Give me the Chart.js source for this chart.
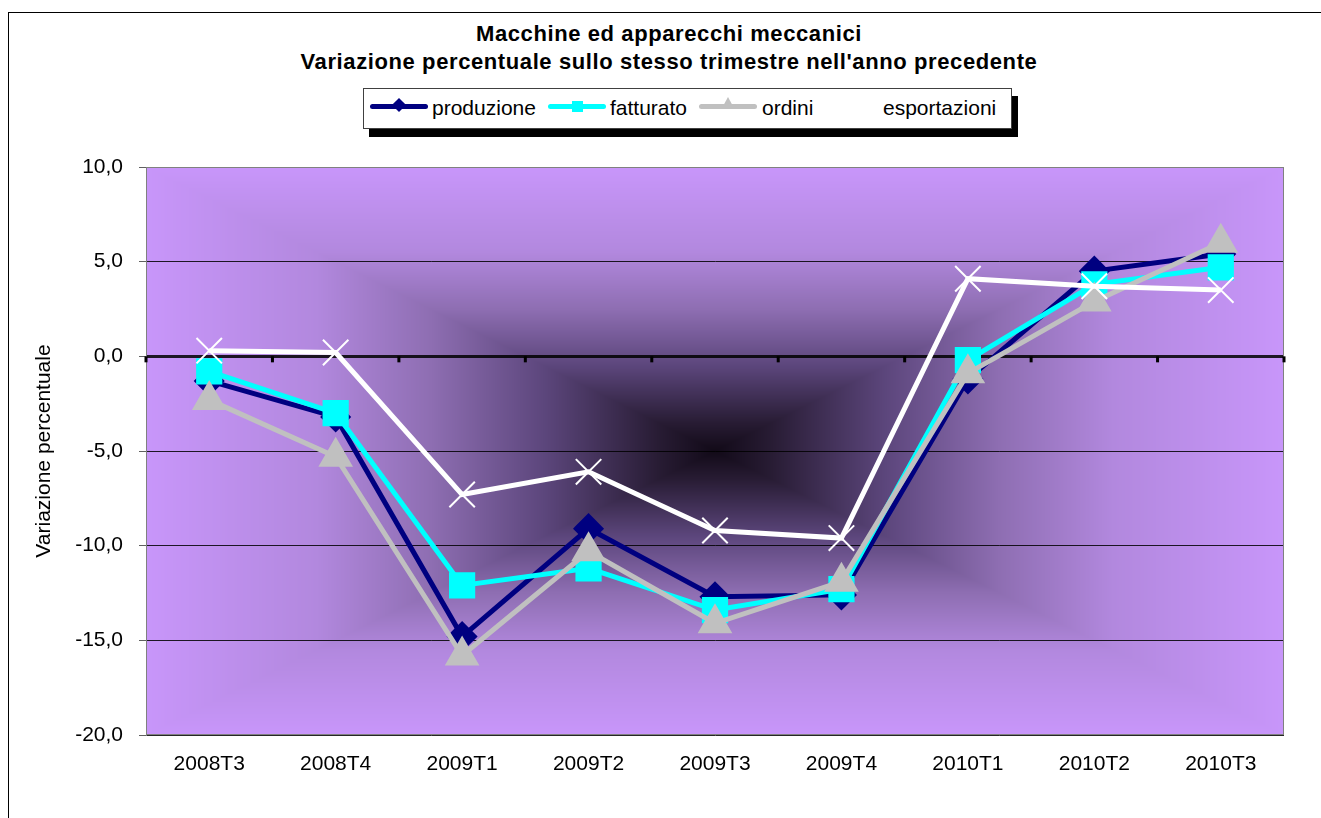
<!DOCTYPE html>
<html>
<head>
<meta charset="utf-8">
<script src="https://cdn.jsdelivr.net/npm/chart.js@4/dist/chart.umd.min.js"></script>
<style>
  body { margin: 0; background: #fff; overflow: hidden; font-family: "Liberation Sans", Arial, sans-serif; }
  #frame { position: absolute; left: 8px; top: 12px; width: 1400px; height: 900px; border: 1px solid #000; }
  #titolo { position: absolute; left: 8px; top: 20px; width: 1322px; text-align: center; font-weight: bold; font-size: 22px; line-height: 28px; letter-spacing: 0.6px; color: #000; }
  #legenda { position: absolute; left: 363px; top: 88px; width: 647px; height: 39px; border: 1px solid #404040; background: #fff; box-shadow: 6px 8px 0 #000; }
  #legenda .lin { position: absolute; top: 15px; width: 58px; height: 5px; border-radius: 3px; }
  #legenda .txt { position: absolute; top: 4px; font-size: 21px; line-height: 30px; color: #000; white-space: nowrap; }
  canvas { position: absolute; left: 0; top: 0; }
</style>
</head>
<body>
<div id="frame"></div>
<div id="titolo">Macchine ed apparecchi meccanici<br>Variazione percentuale sullo stesso trimestre nell'anno precedente</div>
<div id="legenda">
  <div class="lin" style="left:6px;background:#000080"></div>
  <div style="position:absolute;left:30px;top:11px;width:10px;height:10px;background:#000080;transform:rotate(45deg)"></div>
  <div class="txt" style="left:68px">produzione</div>
  <div class="lin" style="left:184px;background:#00ffff"></div>
  <div style="position:absolute;left:208px;top:12px;width:11px;height:11px;background:#00ffff"></div>
  <div class="txt" style="left:246px">fatturato</div>
  <div class="lin" style="left:335px;background:#c0c0c0"></div>
  <div style="position:absolute;left:358px;top:8px;width:0;height:0;border-left:6px solid transparent;border-right:6px solid transparent;border-bottom:11px solid #c0c0c0"></div>
  <div class="txt" style="left:398px">ordini</div>
  <div class="lin" style="left:459px;background:#ffffff"></div>
  <div class="txt" style="left:519px">esportazioni</div>
</div>
<canvas id="grafico" width="1321" height="818"></canvas>
<script>
const trimestri = ['2008T3', '2008T4', '2009T1', '2009T2', '2009T3', '2009T4', '2010T1', '2010T2', '2010T3'];
const produzione = [-1.3, -3.2, -14.8, -9.1, -12.7, -12.6, -1.2, 4.5, 5.4];
const fatturato = [-0.8, -3.0, -12.1, -11.2, -13.4, -12.3, -0.2, 3.8, 4.7];
const ordini = [-2.3, -5.3, -15.8, -10.3, -14.1, -11.9, -0.9, 2.9, 6.0];
const esportazioni = [0.3, 0.2, -7.3, -6.1, -9.2, -9.6, 4.1, 3.7, 3.5];
const yMin = -20, yMax = 10, yStep = 5;

// sfondo dell'area del grafico: sfumatura rettangolare dal centro
const stops = [
  [0, [18, 10, 24]], [0.1, [40, 28, 52]], [0.3, [92, 70, 124]],
  [0.5, [142, 110, 178]], [0.7, [178, 136, 222]], [1, [200, 150, 250]]
];
function colore(t) {
  for (let i = 1; i < stops.length; i++) {
    if (t <= stops[i][0]) {
      const [t0, c0] = stops[i - 1], [t1, c1] = stops[i];
      const f = (t - t0) / (t1 - t0);
      return c0.map((v, k) => v + (c1[k] - v) * f);
    }
  }
  return stops[stops.length - 1][1];
}

const sfondo = {
  id: 'sfondo',
  beforeDraw(chart) {
    const { ctx, chartArea: a } = chart;
    const w = Math.round(a.right - a.left), h = Math.round(a.bottom - a.top);
    const off = document.createElement('canvas');
    off.width = w; off.height = h;
    const octx = off.getContext('2d');
    const img = octx.createImageData(w, h);
    const hw = w / 2, hh = h / 2;
    for (let y = 0; y < h; y++) {
      for (let x = 0; x < w; x++) {
        const t = Math.min(1, Math.max(Math.abs(x + 0.5 - hw) / hw, Math.abs(y + 0.5 - hh) / hh));
        const c = colore(t);
        const p = (y * w + x) * 4;
        img.data[p] = c[0]; img.data[p + 1] = c[1]; img.data[p + 2] = c[2]; img.data[p + 3] = 255;
      }
    }
    octx.putImageData(img, 0, 0);
    ctx.drawImage(off, a.left, a.top);
  },
  beforeDatasetsDraw(chart) {
    const { ctx, chartArea: a } = chart;
    const xs = chart.scales.x, y0 = chart.scales.y.getPixelForValue(0);
    ctx.save();
    ctx.strokeStyle = '#808080';
    ctx.lineWidth = 1;
    ctx.strokeRect(a.left + 0.5, a.top + 0.5, a.right - a.left - 1, a.bottom - a.top - 1);
    // tacche sull'asse dello zero
    const step = xs.getPixelForValue(1) - xs.getPixelForValue(0);
    ctx.fillStyle = '#000';
    for (let i = 0; i <= trimestri.length; i++) {
      const x = xs.getPixelForValue(0) - step / 2 + i * step;
      ctx.fillRect(x - 1.5, y0, 3, 6);
    }
    ctx.restore();
  }
};

Chart.defaults.font.family = '"Liberation Sans", Arial, sans-serif';
Chart.defaults.color = '#000';

new Chart(document.getElementById('grafico'), {
  type: 'line',
  data: {
    labels: trimestri,
    datasets: [
      { label: 'produzione', data: produzione, borderColor: '#000080', backgroundColor: '#000080',
        borderWidth: 5, pointStyle: 'rectRot', pointRadius: 12, order: 4 },
      { label: 'fatturato', data: fatturato, borderColor: '#00ffff', backgroundColor: '#00ffff',
        borderWidth: 5, pointStyle: 'rect', pointRadius: 15, order: 3 },
      { label: 'ordini', data: ordini, borderColor: '#c0c0c0', backgroundColor: '#c0c0c0',
        borderWidth: 5, pointStyle: 'triangle', pointRadius: 15, order: 2 },
      { label: 'esportazioni', data: esportazioni, borderColor: '#ffffff', backgroundColor: '#ffffff',
        borderWidth: 5, pointStyle: 'crossRot', pointRadius: 18, pointBorderWidth: 2, order: 1 }
    ]
  },
  options: {
    responsive: false,
    animation: false,
    clip: false,
    layout: { padding: { top: 167, right: 37, bottom: 0, left: 0 } },
    plugins: { legend: { display: false }, tooltip: { enabled: false } },
    elements: { line: { tension: 0 }, point: { borderWidth: 1 } },
    scales: {
      x: {
        offset: true,
        grid: { display: false, drawTicks: false },
        border: { display: false },
        ticks: { font: { size: 21 }, padding: 17, maxRotation: 0 },
        afterFit(s) { s.height = 83; }
      },
      y: {
        min: yMin, max: yMax,
        ticks: { stepSize: yStep, font: { size: 21 }, padding: 16,
          callback: v => v.toFixed(1).replace('.', ',') },
        grid: {
          color: c => 'rgba(0,0,0,0.85)',
          lineWidth: c => c.tick && c.tick.value === 0 ? 3 : 1,
          tickLength: 7, tickColor: '#606060', tickWidth: 1
        },
        border: { color: '#808080' },
        title: { display: true, text: 'Variazione percentuale', font: { size: 21 }, padding: { top: 32 } },
        afterFit(s) { s.width = 146; }
      }
    }
  },
  plugins: [sfondo]
});
</script>
</body>
</html>
